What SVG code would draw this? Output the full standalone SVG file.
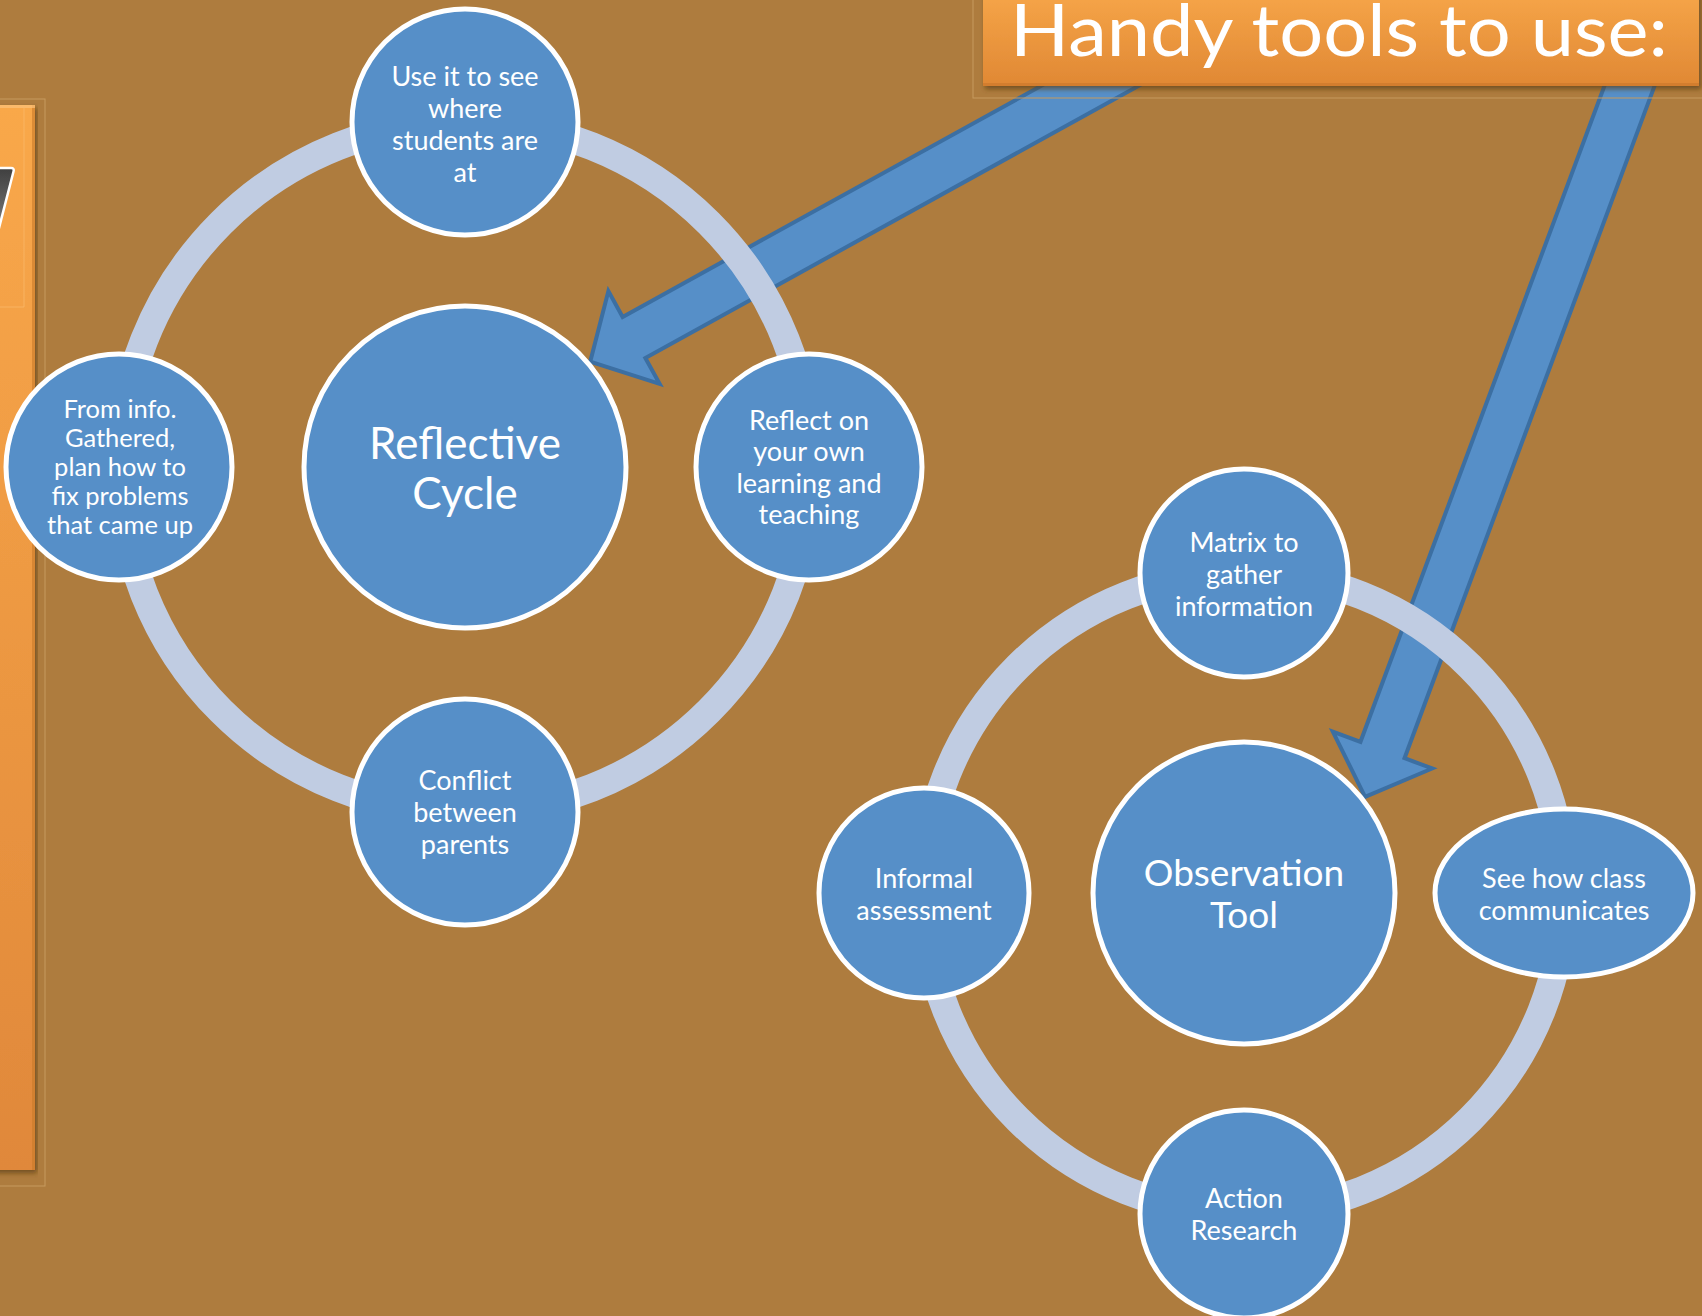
<svg xmlns="http://www.w3.org/2000/svg" width="1702" height="1316" viewBox="0 0 1702 1316">
<defs>
<linearGradient id="orangeV" x1="0" y1="0" x2="0" y2="1">
<stop offset="0" stop-color="#F9A94B"/>
<stop offset="1" stop-color="#E08834"/>
</linearGradient>
<linearGradient id="panelV" x1="0" y1="0" x2="0" y2="1">
<stop offset="0" stop-color="#F9A84A"/>
<stop offset="1" stop-color="#E0883A"/>
</linearGradient>
<linearGradient id="grayG" x1="0" y1="0" x2="0" y2="1">
<stop offset="0" stop-color="#3F3F3F"/>
<stop offset="1" stop-color="#7A7A7A"/>
</linearGradient>
<filter id="shadow" x="-5%" y="-20%" width="110%" height="140%">
<feDropShadow dx="2" dy="3" stdDeviation="2.5" flood-color="#5A3A10" flood-opacity="0.7"/>
</filter>
</defs>
<style>
.node { fill: #568FC8; stroke: #FFFFFF; stroke-width: 5; }
.ring { fill: none; stroke: #C0CCE2; stroke-width: 28; }
.arrow { fill: #568FC8; stroke: #3C6FA2; stroke-width: 4; stroke-linejoin: miter; }
.t { font-family: Lato, "Open Sans", "Liberation Sans", sans-serif; fill: #FFFFFF; text-anchor: middle; }
.s { font-size: 27px; }
.sl { font-size: 25.5px; }
.big { font-size: 44px; }
.mid { font-size: 37px; }
.frame { fill: none; stroke: #C69A5E; stroke-width: 1; }
</style>

<rect x="0" y="0" width="1702" height="1316" fill="#AE7C3E"/>

<!-- left orange panel -->
<g id="left-panel">
<rect class="frame" x="-10" y="99" width="55" height="1087"/>
<rect x="-20" y="105" width="55" height="1065" fill="url(#panelV)" filter="url(#shadow)"/>
<rect x="32" y="105" width="3" height="1065" fill="#C87A2A" opacity="0.6"/>
<rect x="-20" y="105" width="55" height="3" fill="#FCC27A" opacity="0.7"/>
<path d="M -10 307 L 24 307 L 24 105" fill="none" stroke="#FBBB6E" stroke-width="1" opacity="0.7"/>
<path d="M -10 168 L 11 168 Q 14.5 168 13.5 171.5 L -1 228 L -10 228 Z" fill="url(#grayG)" stroke="#FFFFFF" stroke-width="2.5"/>
</g>

<!-- connectors: block arrows from title -->
<g id="connectors">
<g transform="translate(634,337.5) rotate(151.1)">
<polygon class="arrow" points="-620,-23.5 0,-23.5 0,-53 50,0 0,53 0,23.5 -620,23.5"/>
</g>
<g transform="translate(1382.5,750) rotate(110.4)">
<polygon class="arrow" points="-760,-23.5 0,-23.5 0,-53 50,0 0,53 0,23.5 -760,23.5"/>
</g>
</g>

<!-- title box -->
<g id="title">
<rect class="frame" x="973" y="-10" width="740" height="108"/>
<rect x="983" y="-20" width="716" height="106" fill="url(#orangeV)" filter="url(#shadow)"/>
<rect x="983" y="83" width="716" height="3" fill="#C9772A" opacity="0.6"/>
<text class="t" x="1339" y="56" font-size="72" textLength="658" lengthAdjust="spacingAndGlyphs">Handy tools to use:</text>
</g>

<!-- Reflective cycle -->
<g id="cycle1">
<circle class="ring" cx="465" cy="467" r="345"/>
<g id="n-reflective">
<circle class="node" cx="465" cy="467" r="161"/>
<text class="t big" x="465" y="459">Reflective</text>
<text class="t big" x="465" y="509">Cycle</text>
</g>
<g id="n-top">
<circle class="node" cx="465" cy="122" r="113"/>
<text class="t s" x="465" y="86">Use it to see</text>
<text class="t s" x="465" y="118">where</text>
<text class="t s" x="465" y="150">students are</text>
<text class="t s" x="465" y="182">at</text>
</g>
<g id="n-right">
<circle class="node" cx="809" cy="467" r="113"/>
<text class="t s" x="809" y="430">Reflect on</text>
<text class="t s" x="809" y="461">your own</text>
<text class="t s" x="809" y="493">learning and</text>
<text class="t s" x="809" y="524">teaching</text>
</g>
<g id="n-bottom">
<circle class="node" cx="465" cy="812" r="113"/>
<text class="t s" x="465" y="790">Conflict</text>
<text class="t s" x="465" y="822">between</text>
<text class="t s" x="465" y="854">parents</text>
</g>
<g id="n-left">
<circle class="node" cx="119" cy="467" r="113"/>
<text class="t sl" x="120" y="418">From info.</text>
<text class="t sl" x="120" y="447">Gathered,</text>
<text class="t sl" x="120" y="476">plan how to</text>
<text class="t sl" x="120" y="505">fix problems</text>
<text class="t sl" x="120" y="534">that came up</text>
</g>
</g>

<!-- Observation tool cycle -->
<g id="cycle2">
<circle class="ring" cx="1244" cy="893" r="320"/>
<g id="n-observation">
<circle class="node" cx="1244" cy="893" r="151"/>
<text class="t mid" x="1244" y="886">Observation</text>
<text class="t mid" x="1244" y="928">Tool</text>
</g>
<g id="n-matrix">
<circle class="node" cx="1244" cy="573" r="104"/>
<text class="t s" x="1244" y="552">Matrix to</text>
<text class="t s" x="1244" y="584">gather</text>
<text class="t s" x="1244" y="616">information</text>
</g>
<g id="n-class">
<ellipse class="node" cx="1564" cy="893" rx="129" ry="84"/>
<text class="t s" x="1564" y="888">See how class</text>
<text class="t s" x="1564" y="920">communicates</text>
</g>
<g id="n-action">
<circle class="node" cx="1244" cy="1214" r="104"/>
<text class="t s" x="1244" y="1208">Action</text>
<text class="t s" x="1244" y="1240">Research</text>
</g>
<g id="n-informal">
<circle class="node" cx="924" cy="893" r="105"/>
<text class="t s" x="924" y="888">Informal</text>
<text class="t s" x="924" y="920">assessment</text>
</g>
</g>
</svg>
